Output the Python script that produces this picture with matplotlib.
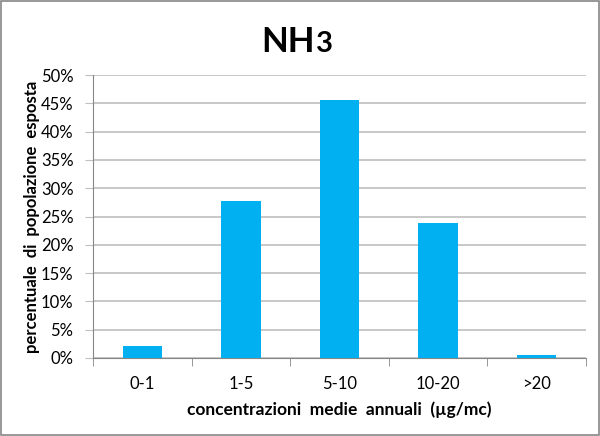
import matplotlib.pyplot as plt
from matplotlib.ticker import PercentFormatter
import numpy as np

categories = ['0-1', '1-5', '5-10', '10-20', '>20']
values = [2.2, 27.7, 45.5, 23.9, 0.5]

plt.rcParams['font.family'] = ['Lato', 'DejaVu Sans']

fig = plt.figure(figsize=(6.0, 4.36), dpi=100)
ax = fig.add_axes([93/600, 1-358/436, 493/600, 283/436])

x = np.arange(len(categories))
ax.bar(x, values, width=0.40, color='#00B0F0', zorder=3)

ax.set_xlim(-0.5, len(categories) - 0.5)
ax.set_ylim(0, 50)
ax.set_yticks(np.arange(0, 51, 5))
ax.yaxis.set_major_formatter(PercentFormatter(decimals=0))
ax.grid(axis='y', color='#BFBFBF', linewidth=1.2, zorder=0)

ax.set_xticks(x)
ax.set_xticklabels(categories, fontsize=12)
ax.set_xticks(np.arange(-0.5, len(categories)), minor=True)
ax.tick_params(axis='x', which='major', length=0, pad=13)
ax.tick_params(axis='x', which='minor', length=6, color='#868686')
ax.tick_params(axis='y', length=6, color='#BFBFBF', labelsize=12, pad=8)

for s in ['top', 'right']:
    ax.spines[s].set_visible(False)
for s in ['left', 'bottom']:
    ax.spines[s].set_color('#868686')

ax.set_xlabel('concentrazioni  medie  annuali  (µg/mc)', fontsize=12.5, fontweight='bold', labelpad=7)
ax.set_ylabel('percentuale  di  popolazione  esposta', fontsize=12, fontweight='bold', labelpad=0.5)

fig.text(315/600, 1-52/436, 'NH', fontsize=25, fontweight='bold', ha='right', va='baseline')
fig.text(316/600, 1-52/436, '3', fontsize=21, fontweight='bold', ha='left', va='baseline')

fig.patches.append(plt.Rectangle((0.002, 0.002), 0.996, 0.996, transform=fig.transFigure,
                                 fill=False, edgecolor='#868686', linewidth=1.2))

fig.savefig('out.png', dpi=100)
